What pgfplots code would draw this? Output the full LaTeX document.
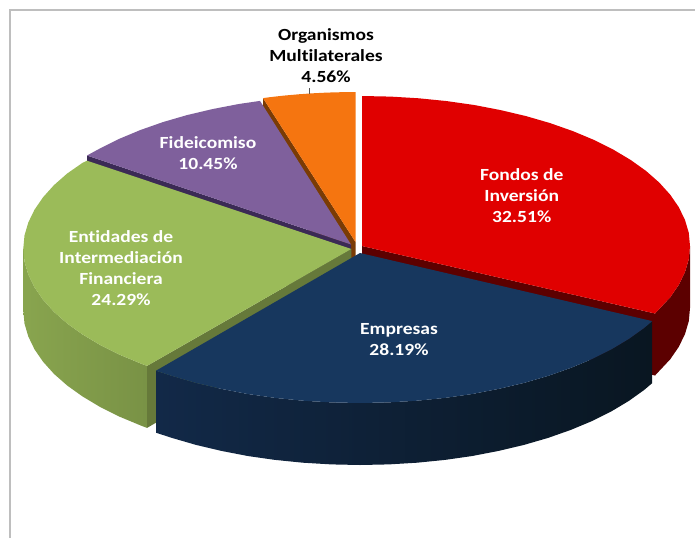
\documentclass[border=0pt]{standalone}
\usepackage{pgfplots}
\usepackage{fontspec}
\setmainfont[FakeStretch=1.15,Ligatures=NoCommon]{Carlito}
\pgfplotsset{compat=1.18}
\definecolor{fondos}{HTML}{E00000}
\definecolor{fondosdark}{HTML}{5C0000}
\definecolor{empresas}{HTML}{17375E}
\definecolor{orgs}{HTML}{F57510}
\definecolor{orgsdark}{HTML}{7A3B05}
\definecolor{fidei}{HTML}{7F609C}
\definecolor{fideidark}{HTML}{3B2A55}
\definecolor{entidades}{HTML}{9BBB59}
\definecolor{entidadesdark}{HTML}{66793A}
\tikzset{lbl/.style={font=\fontsize{17}{21}\selectfont\bfseries, align=center, inner sep=0pt, text=white}}
\begin{document}
\begin{tikzpicture}
\begin{axis}[
    scale only axis, width=695pt, height=538pt,
    xmin=0, xmax=695, ymin=0, ymax=538, y dir=reverse,
    hide axis, clip=true,
]
% keep the whole page in the bounding box
\path (axis cs:0,0) rectangle (axis cs:695,538);

% frame of the chart area
\addplot[draw={rgb,255:red,190;green,190;blue,190}, line width=1.5pt] coordinates {(10,538) (10,10) (695,10)};

% organismos multilaterales
\addplot[fill=orgsdark, draw=none] coordinates {(263,98.1) (355.5,242) (355.5,304) (263,160.1)};
\addplot[fill=orgs, draw=none] coordinates {(263,98.1) (270.6,97.1) (284,95.6) (298.5,94.3) (312.7,93.3) (326.9,92.6) (341,92.2) (355.5,92) (355.5,242)};
\addplot[draw=black!65, line width=1pt] coordinates {(309,88) (309,94)};

% fideicomiso
\addplot[fill=fideidark, draw=none] coordinates {(87,155.5) (351,244.5) (351,307) (87,218)};
\addplot[fill=fidei, draw=none] coordinates {(260,100.9) (238.8,104) (212.4,109.1) (187,115.1) (162.9,122.1) (140.2,130.1) (119.1,138.9) (99.7,148.6) (87,155.5) (351,244.5)};

% entidades de intermediacion financiera
\addplot[left color=entidades!88!black, right color=entidades!78!black, draw=none] coordinates {
    (23.3,248.5) (24.5,261.6) (28.3,274.5) (34.5,287.3) (43.1,299.8) (54,311.9) (67.2,323.5) (82.6,334.5) (100,344.9) (119.4,354.6) (140.5,363.4) (147,365.9)
    (147,427.9) (140.5,425.4) (119.4,416.6) (100,406.9) (82.6,396.5) (67.2,385.5) (54,373.9) (43.1,361.8) (34.5,349.3) (28.3,336.5) (24.5,323.6) (23.3,310.5)};
\addplot[fill=entidadesdark, draw=none] coordinates {(351.3,249) (147,365.9) (147,427.9) (351.3,310.5)};
\addplot[fill=entidades, draw=none] coordinates {
    (351.3,249) (87,160.7) (82.6,162.8) (67.2,173.5) (54,185.1) (43.1,197.2) (34.5,209.7) (28.3,222.5) (24.5,235.4) (23.3,248.5)
    (24.5,261.6) (28.3,274.5) (34.5,287.3) (43.1,299.8) (54,311.9) (67.2,323.5) (82.6,334.5) (100,344.9) (119.4,354.6) (140.5,363.4) (147,365.9)};

% fondos de inversion
\addplot[fill=fondosdark, draw=none] coordinates {(362,246) (655,313.5) (655,375.5) (362,308)};
\addplot[fill=fondosdark, draw=none] coordinates {
    (690,246) (688.8,259.1) (685,272) (678.8,284.8) (670.2,297.3) (655,313.5)
    (655,375.5) (670.2,359.3) (678.8,346.8) (685,334) (688.8,321.1) (690,308)};
\addplot[fill=fondos, draw=none] coordinates {
    (362,246) (362,96) (390.6,96.6) (419,98.3) (446.9,101.1) (474.2,105) (500.6,110.1) (526,116.1) (550.1,123.1) (572.8,131.1) (593.9,139.9) (613.3,149.6)
    (630.7,160) (646.1,171) (659.3,182.6) (670.2,194.7) (678.8,207.2) (685,220) (688.8,232.9) (690,246) (688.8,259.1) (685,272) (678.8,284.8) (670.2,297.3) (655,313.5)};

% empresas
\addplot[left color={rgb,255:red,18;green,41;blue,72}, middle color={rgb,255:red,13;green,29;blue,48}, right color={rgb,255:red,9;green,22;blue,33}, draw=none] coordinates {
    (652.2,321.1) (644.1,328) (628.7,339) (611.3,349.4) (591.9,359.1) (570.8,367.9) (548.1,375.9) (524,382.9) (498.6,388.9) (472.2,394) (444.9,397.9) (417,400.7) (388.6,402.4) (360,403)
    (331.4,402.4) (303,400.7) (275.1,397.9) (247.8,394) (221.4,388.9) (196,382.9) (171.9,375.9) (156,370.7)
    (156,432.7) (171.9,437.9) (196,444.9) (221.4,450.9) (247.8,456) (275.1,459.9) (303,462.7) (331.4,464.4) (360,465)
    (388.6,464.4) (417,462.7) (444.9,459.9) (472.2,456) (498.6,450.9) (524,444.9) (548.1,437.9) (570.8,429.9) (591.9,421.1) (611.3,411.4) (628.7,401) (644.1,390) (652.2,383.1)};
\addplot[fill=empresas, draw=none] coordinates {
    (360,253) (652.2,321.1) (644.1,328) (628.7,339) (611.3,349.4) (591.9,359.1) (570.8,367.9) (548.1,375.9) (524,382.9) (498.6,388.9) (472.2,394) (444.9,397.9) (417,400.7) (388.6,402.4) (360,403)
    (331.4,402.4) (303,400.7) (275.1,397.9) (247.8,394) (221.4,388.9) (196,382.9) (171.9,375.9) (156,370.7)};

\node[lbl, text=black] at (axis cs:326,56) {Organismos\\Multilaterales\\4.56\%};
\node[lbl] at (axis cs:208,153) {Fideicomiso\\10.45\%};
\node[lbl] at (axis cs:121,268) {Entidades de\\Intermediación\\Financiera\\24.29\%};
\node[lbl] at (axis cs:521.7,196) {Fondos de\\Inversión\\32.51\%};
\node[lbl] at (axis cs:399,339.5) {Empresas\\28.19\%};
\end{axis}
\end{tikzpicture}
\end{document}
